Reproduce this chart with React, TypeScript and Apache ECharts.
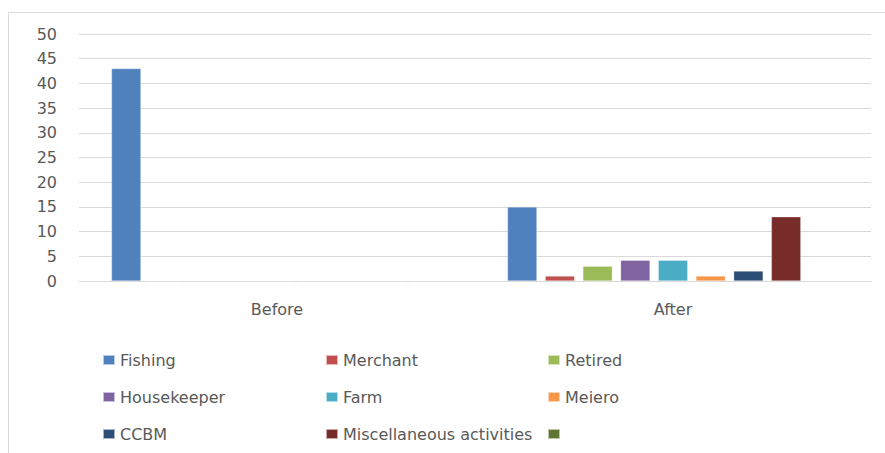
import React, { useEffect, useRef } from "react";
import * as echarts from "echarts";

const categories = ["Before", "After"];
const seriesNames = [
  "Fishing",
  "Merchant",
  "Retired",
  "Housekeeper",
  "Farm",
  "Meiero",
  "CCBM",
  "Miscellaneous activities",
  " ",
];
const fishing = [43, 15];
const merchant = [0, 1];
const retired = [0, 3];
const housekeeper = [0, 4.2];
const farm = [0, 4.2];
const meiero = [0, 1];
const ccbm = [0, 2];
const misc = [0, 13];
const unnamed = [0, 0];
const seriesValues = [fishing, merchant, retired, housekeeper, farm, meiero, ccbm, misc, unnamed];
const colors = ["#4F81BD", "#C0504D", "#9BBB59", "#8064A2", "#4BACC6", "#F79646", "#2C4D75", "#772C2A", "#5F7530"];
const yTicks = { min: 0, max: 50, interval: 5 };

export default function App() {
  const ref = useRef<HTMLDivElement>(null);
  useEffect(() => {
    if (!ref.current) return;
    const chart = echarts.init(ref.current, undefined, { renderer: "svg" });
    const font = "DejaVu Sans";
    const textStyle = { color: "#595959", fontSize: 16, fontFamily: font, lineHeight: 18 };
    const colLegend = (names: string[], left: number) => ({
      orient: "vertical",
      left,
      top: 351,
      height: 100,
      padding: 0,
      itemWidth: 12,
      itemHeight: 10,
      itemGap: 19,
      icon: "rect",
      selectedMode: false,
      textStyle,
      data: names,
    });
    chart.setOption({
      animation: false,
      color: colors,
      grid: { left: 79, right: 14, top: 34, bottom: 172, containLabel: false },
      graphic: [
        {
          type: "rect",
          shape: { x: 8.5, y: 12.5, width: 900, height: 460 },
          style: { fill: "none", stroke: "#d9d9d9", lineWidth: 1 },
          silent: true,
        },
      ],
      legend: [
        colLegend([seriesNames[0], seriesNames[3], seriesNames[6]], 102),
        colLegend([seriesNames[1], seriesNames[4], seriesNames[7]], 325),
        colLegend([seriesNames[2], seriesNames[5], seriesNames[8]], 547),
      ],
      xAxis: {
        type: "category",
        data: categories,
        axisLine: { show: true, lineStyle: { color: "#d9d9d9", width: 1 } },
        axisTick: { show: false },
        axisLabel: { color: "#595959", fontSize: 16, fontFamily: font, margin: 20 },
      },
      yAxis: {
        type: "value",
        min: yTicks.min,
        max: yTicks.max,
        interval: yTicks.interval,
        axisLine: { show: false },
        axisTick: { show: false },
        axisLabel: { color: "#595959", fontSize: 16, fontFamily: font, margin: 22 },
        splitLine: { lineStyle: { color: "#d9d9d9", width: 1 } },
      },
      series: seriesNames.map((name, i) => ({
        name,
        type: "bar",
        data: seriesValues[i],
        barGap: "28%",
        barCategoryGap: "16.4%",
        itemStyle: { color: colors[i], borderColor: "rgba(255,255,255,0.6)", borderWidth: 0.5 },
      })),
    });
    return () => chart.dispose();
  }, []);
  return (
    <div
      ref={ref}
      style={{ position: "fixed", left: 0, top: 0, width: 885, height: 453, background: "#fff" }}
    />
  );
}
